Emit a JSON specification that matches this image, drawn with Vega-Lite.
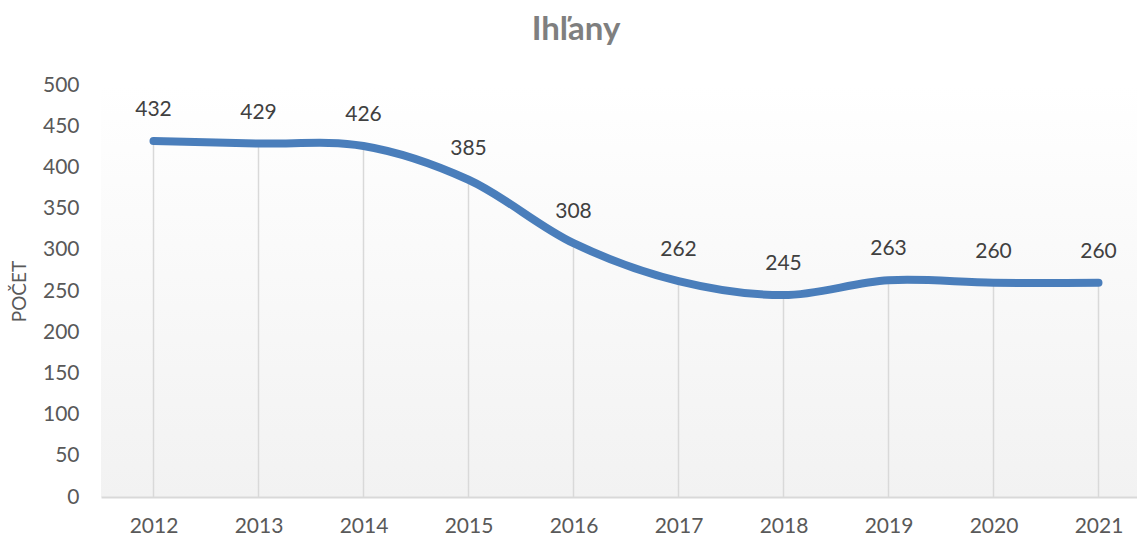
{
  "$schema": "https://vega.github.io/schema/vega-lite/v6.json",
  "autosize": "none",
  "width": 1050,
  "height": 412,
  "padding": {"left": 101, "top": 85, "right": 0, "bottom": 39},
  "background": "#ffffff",
  "title": {
    "text": "Ihľany",
    "font": "Lato",
    "fontSize": 33,
    "fontWeight": "bold",
    "color": "#7f7f7f",
    "anchor": "middle",
    "dx": -50,
    "offset": 27
  },
  "config": {
    "view": {
      "stroke": null,
      "fill": {
        "gradient": "linear",
        "x1": 0, "y1": 0, "x2": 0, "y2": 1,
        "stops": [
          {"offset": 0, "color": "#ffffff"},
          {"offset": 1, "color": "#f2f2f2"}
        ]
      }
    },
    "font": "Lato"
  },
  "data": {
    "values": [
      {"year": "2012", "value": 432},
      {"year": "2013", "value": 429},
      {"year": "2014", "value": 426},
      {"year": "2015", "value": 385},
      {"year": "2016", "value": 308},
      {"year": "2017", "value": 262},
      {"year": "2018", "value": 245},
      {"year": "2019", "value": 263},
      {"year": "2020", "value": 260},
      {"year": "2021", "value": 260}
    ]
  },
  "encoding": {
    "x": {
      "field": "year",
      "type": "ordinal",
      "scale": {"type": "point", "padding": 0.5},
      "axis": {
        "title": null,
        "labelAngle": 0,
        "labelFont": "Lato",
        "labelFontSize": 21,
        "labelColor": "#595959",
        "labelPadding": 18,
        "ticks": false,
        "grid": false,
        "domainColor": "#d9d9d9",
        "domainWidth": 2
      }
    },
    "y": {
      "field": "value",
      "type": "quantitative",
      "scale": {"domain": [0, 500], "nice": false},
      "axis": {
        "title": "POČET",
        "titleFont": "Lato",
        "titleFontSize": 19,
        "titleFontWeight": "normal",
        "titleColor": "#595959",
        "titlePadding": 13,
        "values": [0, 50, 100, 150, 200, 250, 300, 350, 400, 450, 500],
        "labelFont": "Lato",
        "labelFontSize": 21,
        "labelColor": "#595959",
        "labelPadding": 22,
        "ticks": false,
        "domain": false,
        "grid": false
      }
    }
  },
  "layer": [
    {
      "mark": {"type": "rule", "color": "#d9d9d9", "strokeWidth": 1.5},
      "encoding": {"y2": {"datum": 0}}
    },
    {
      "mark": {
        "type": "line",
        "color": "#4a7ebb",
        "strokeWidth": 8,
        "strokeCap": "round",
        "strokeJoin": "round",
        "interpolate": "catmull-rom"
      }
    },
    {
      "mark": {
        "type": "text",
        "font": "Lato",
        "fontSize": 21,
        "color": "#404040",
        "baseline": "alphabetic",
        "dy": -25
      },
      "encoding": {"text": {"field": "value", "type": "quantitative"}}
    }
  ]
}
